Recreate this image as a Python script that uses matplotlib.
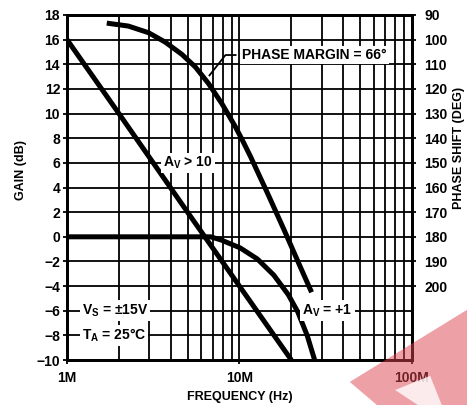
import matplotlib
matplotlib.use("Agg")
import matplotlib.pyplot as plt
from matplotlib.patches import Polygon
from matplotlib.ticker import FixedLocator, NullFormatter

plt.rcParams['font.family'] = ['Liberation Sans', 'DejaVu Sans']
plt.rcParams['font.weight'] = 'bold'
plt.rcParams['mathtext.fontset'] = 'custom'
plt.rcParams['mathtext.rm'] = 'Liberation Sans:bold'
plt.rcParams['mathtext.it'] = 'Liberation Sans:bold'
plt.rcParams['mathtext.bf'] = 'Liberation Sans:bold'

# gain curves (frequency in MHz, gain in dB)
freq_av10 = [1, 2, 5, 10, 20]
gain_av10 = [16, 10, 2, -4, -10]

freq_av1 = [1, 4, 6.8, 7.8, 10.1, 12.7, 15.8, 19.2, 21.8, 24.7, 27.3]
gain_av1 = [0, 0, 0, -0.25, -0.9, -1.8, -3.1, -4.7, -6.1, -8.0, -10]

# phase curve (frequency in MHz, phase in degrees)
freq_phase = [1.7, 2.27, 2.97, 3.71, 4.64, 5.55, 6.63, 7.93, 9.46, 10.4, 11.6,
              14.5, 18.1, 22.6, 26.2]
phase_deg = [93.3, 94.5, 97.2, 101.0, 106.0, 111.1, 117.9, 126.1, 135.3, 140.8, 147.5,
             162.1, 177.0, 192.4, 202.5]

gain_ticks = list(range(-10, 19, 2))
phase_ticks = list(range(90, 201, 10))
freq_major = [1e6, 1e7, 1e8]
freq_labels = ['1M', '10M', '100M']
freq_minor = [m * d for d in (1e6, 1e7) for m in range(2, 10)]

fig = plt.figure(figsize=(4.67, 4.05), dpi=100)
ax = fig.add_axes([0.1435, 0.111, 0.7385, 0.852])

lw_grid = 1.3
lw_curve = 3.6

ax.set_xscale('log')
ax.set_xlim(1e6, 1e8)
ax.set_ylim(-10, 18)
ax.xaxis.set_major_locator(FixedLocator(freq_major))
ax.xaxis.set_minor_locator(FixedLocator(freq_minor))
ax.xaxis.set_minor_formatter(NullFormatter())
ax.set_xticks(freq_major, freq_labels)
ax.set_yticks(gain_ticks)
ax.grid(True, which='both', color='black', lw=lw_grid)
ax.tick_params(axis='both', which='major', direction='out', length=3, width=lw_grid,
               labelsize=10, pad=2)
ax.tick_params(axis='x', which='major', pad=5)
ax.tick_params(axis='x', which='minor', length=0)
for s in ax.spines.values():
    s.set_linewidth(2)

ax.plot([f * 1e6 for f in freq_av10], gain_av10, color='black', lw=lw_curve,
        solid_capstyle='butt', zorder=3)
ax.plot([f * 1e6 for f in freq_av1], gain_av1, color='black', lw=lw_curve,
        solid_capstyle='butt', solid_joinstyle='round', zorder=3)

ax2 = ax.twinx()
ax2.set_ylim(230, 90)
ax2.set_yticks(phase_ticks)
ax2.tick_params(axis='y', direction='out', length=3, width=lw_grid, labelsize=10, pad=6)
for s in ax2.spines.values():
    s.set_linewidth(2)
ax2.plot([f * 1e6 for f in freq_phase], phase_deg, color='black', lw=lw_curve,
         solid_capstyle='butt', solid_joinstyle='round', zorder=3)

ax.set_ylabel('GAIN (dB)', fontsize=9, fontweight='bold')
ax.yaxis.set_label_coords(-0.116, 0.55)
ax2.set_ylabel('PHASE SHIFT (DEG)', fontsize=9, fontweight='bold', rotation=90)
ax2.yaxis.set_label_coords(1.118, 0.615)
ax.set_xlabel('FREQUENCY (Hz)', fontsize=9, fontweight='bold')
ax.xaxis.set_label_coords(0.5, -0.09)

box = dict(facecolor='white', edgecolor='none', pad=1.5)

# phase margin leader and label
ax.plot([6.7e6, 8.3e6, 9.5e6], [13.1, 14.75, 14.75], color='black', lw=lw_grid, zorder=4)
ax.text(1.04e7, 14.75, 'PHASE MARGIN = 66°', fontsize=10, fontweight='bold',
        va='center', ha='left', bbox=box, zorder=5)
ax.text(3.6e6, 6, r'$\mathregular{A_V}$ > 10', fontsize=10, fontweight='bold',
        va='center', ha='left', bbox=box, zorder=5)
ax.text(2.32e7, -6, r'$\mathregular{A_V}$ = +1', fontsize=10, fontweight='bold',
        va='center', ha='left', bbox=box, zorder=5)
ax.text(1.22e6, -6, r'$\mathregular{V_S}$ = ±15V', fontsize=10, fontweight='bold',
        va='center', ha='left', bbox=box, zorder=5)
ax.text(1.22e6, -8, r'$\mathregular{T_A}$ = 25°C', fontsize=10, fontweight='bold',
        va='center', ha='left', bbox=box, zorder=5)

# faint red watermark in the lower right corner
fig.add_artist(Polygon([(0.749, 0.057), (1.0, 0.235), (1.0, 0.0), (0.807, 0.0)],
                       closed=True, transform=fig.transFigure, facecolor='#dd4450',
                       alpha=0.5, edgecolor='none', zorder=10))
fig.add_artist(Polygon([(0.846, 0.037), (0.921, 0.072), (0.946, 0.0), (0.895, 0.0)],
                       closed=True, transform=fig.transFigure, facecolor='white',
                       alpha=0.8, edgecolor='none', zorder=11))

fig.savefig('out.png', dpi=100)
